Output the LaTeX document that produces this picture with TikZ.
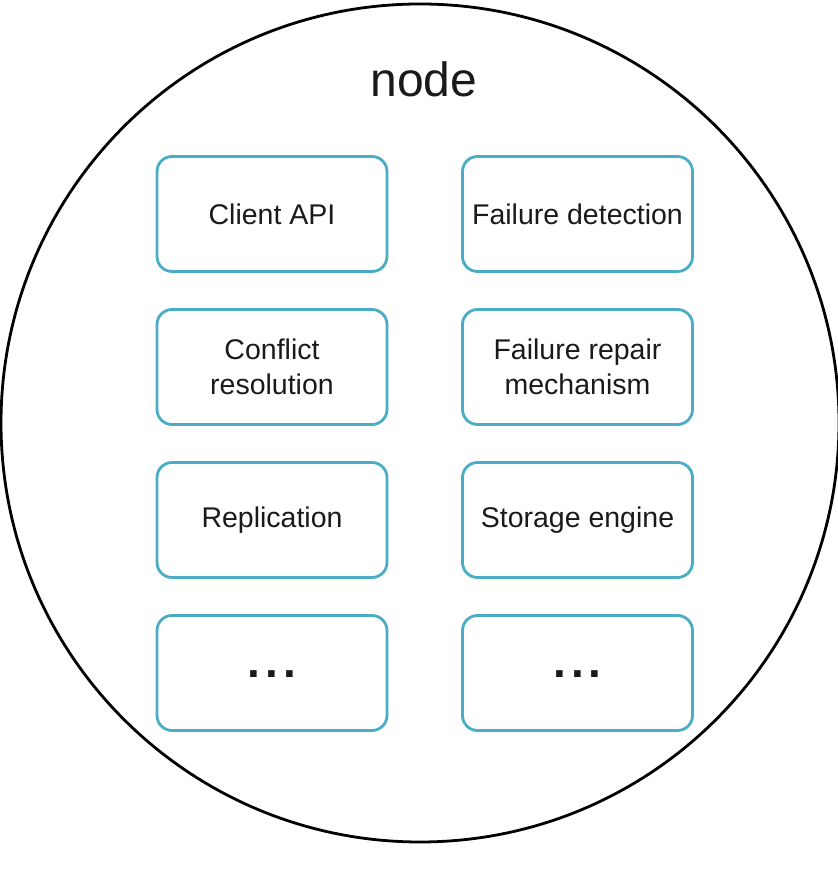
\documentclass[tikz,border=0pt]{standalone}
\usepackage{fontspec}
\setmainfont{Liberation Sans}
\definecolor{boxblue}{RGB}{75,172,198}
\definecolor{txt}{RGB}{26,26,26}
\tikzset{
  part/.style={draw=boxblue, line width=2.8pt, rounded corners=15pt,
    minimum width=230pt, minimum height=115pt, inner sep=0pt,
    align=center, text=txt, font=\fontsize{28.5}{34.5}\selectfont},
  dots/.style={part, font=\fontsize{46}{50}\bfseries\selectfont}
}
\begin{document}
\begin{tikzpicture}[x=1pt,y=1pt]
\useasboundingbox (0,0) rectangle (838,873);
\node[draw=black, line width=2.8pt, circle, minimum size=838pt, inner sep=0pt] (outer) at (420,450) {};
\node[anchor=base, text=txt, font=\fontsize{48}{56}\selectfont] (title) at (424,776) {node};
\node[part] (api) at (272,659) {Client API};
\node[part] (fd) at (577.5,659) {Failure detection};
\node[part] (cr) at (272,506) {Conflict\\resolution};
\node[part] (frm) at (577.5,506) {Failure repair\\mechanism};
\node[part] (rep) at (272,353) {Replication};
\node[part] (se) at (577.5,353) {Storage engine};
\node[part] (d1) at (272,200) {};
\node[part] (d2) at (577.5,200) {};
\node[anchor=base, text=txt, font=\fontsize{46}{50}\bfseries\selectfont] (d1t) at (272,195) {.\hspace{5pt}.\hspace{5pt}.};
\node[anchor=base, text=txt, font=\fontsize{46}{50}\bfseries\selectfont] (d2t) at (577.5,195) {.\hspace{5pt}.\hspace{5pt}.};
\end{tikzpicture}
\end{document}
